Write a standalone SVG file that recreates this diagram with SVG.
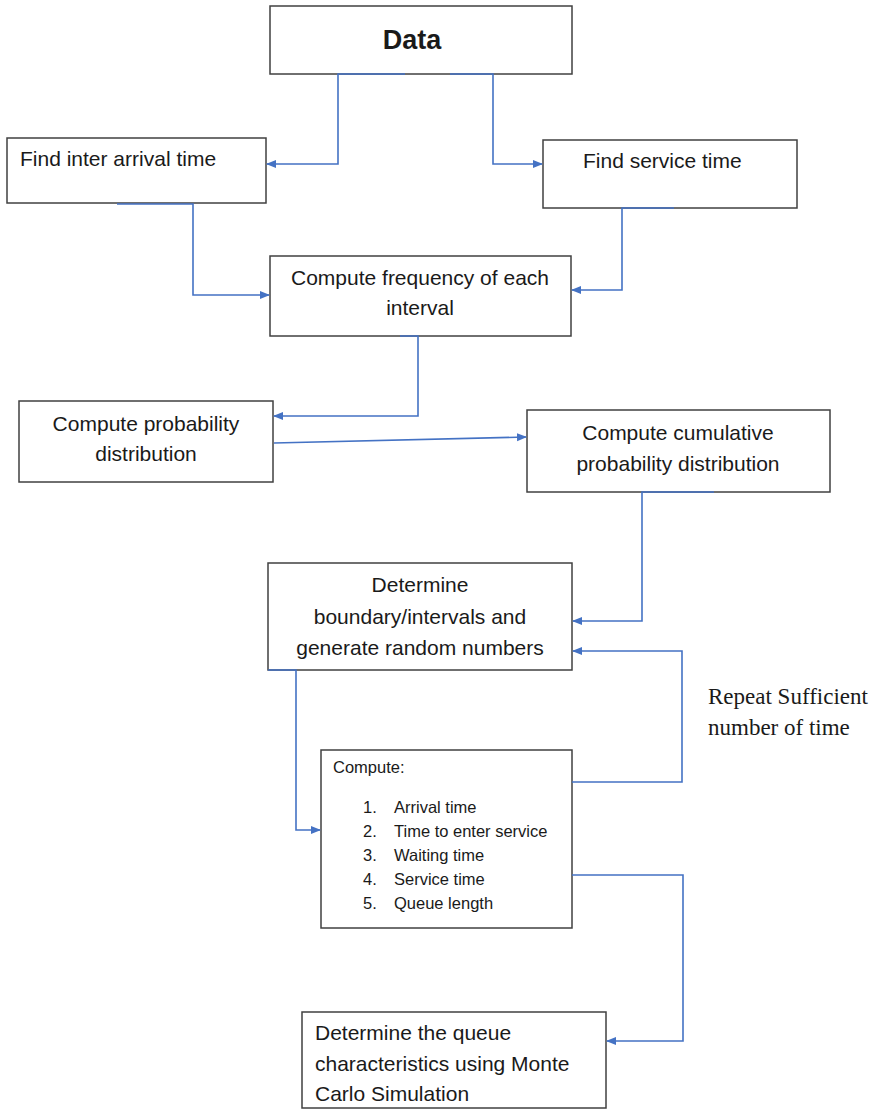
<svg xmlns="http://www.w3.org/2000/svg" width="878" height="1110" viewBox="0 0 878 1110">
<style>
.box{fill:#fff;stroke:#404040;stroke-width:1.5}
.t{font-family:"Liberation Sans",Arial,sans-serif;font-size:21px;fill:#1a1a1a}
.c{text-anchor:middle}
.s{font-size:16.5px}
.tm{font-family:"Liberation Serif","Times New Roman",serif;font-size:23px;fill:#1a1a1a}
.conn path{fill:none;stroke:#4472C4;stroke-width:1.6;marker-end:url(#ah)}
</style>
<defs>
<marker id="ah" markerUnits="userSpaceOnUse" markerWidth="10" markerHeight="10" viewBox="0 0 10 10" refX="9" refY="5" orient="auto">
<path d="M0,1 L10,5 L0,9 z" fill="#4472C4"/>
</marker>
</defs>
<rect width="878" height="1110" fill="#fff"/>
<g id="data"><rect class="box" x="270" y="6" width="302" height="68"/><text class="t c" x="412" y="49" style="font-size:27px;font-weight:bold">Data</text></g>
<g id="interarrival"><rect class="box" x="7" y="138" width="259" height="65"/><text class="t" x="20" y="166">Find inter arrival time</text></g>
<g id="service"><rect class="box" x="543" y="140" width="254" height="68"/><text class="t" x="583" y="168">Find service time</text></g>
<g id="frequency"><rect class="box" x="270" y="256" width="301" height="80"/><text class="t c" x="420" y="285">Compute frequency of each</text><text class="t c" x="420" y="315">interval</text></g>
<g id="probability"><rect class="box" x="19" y="401" width="254" height="81"/><text class="t c" x="146" y="431">Compute probability</text><text class="t c" x="146" y="461">distribution</text></g>
<g id="cumulative"><rect class="box" x="527" y="410" width="303" height="82"/><text class="t c" x="678" y="440">Compute cumulative</text><text class="t c" x="678" y="471">probability distribution</text></g>
<g id="determine"><rect class="box" x="268" y="563" width="304" height="107"/><text class="t c" x="420" y="592">Determine</text><text class="t c" x="420" y="624">boundary/intervals and</text><text class="t c" x="420" y="655">generate random numbers</text></g>
<g id="compute"><rect class="box" x="321" y="750" width="251" height="178"/>
<text class="t s" x="333" y="773">Compute:</text>
<text class="t s" x="363" y="813">1.</text><text class="t s" x="394" y="813">Arrival time</text>
<text class="t s" x="363" y="837">2.</text><text class="t s" x="394" y="837">Time to enter service</text>
<text class="t s" x="363" y="861">3.</text><text class="t s" x="394" y="861">Waiting time</text>
<text class="t s" x="363" y="885">4.</text><text class="t s" x="394" y="885">Service time</text>
<text class="t s" x="363" y="909">5.</text><text class="t s" x="394" y="909">Queue length</text>
</g>
<g id="queue"><rect class="box" x="302" y="1012" width="304" height="96"/><text class="t" x="315" y="1040">Determine the queue</text><text class="t" x="315" y="1071">characteristics using Monte</text><text class="t" x="315" y="1101">Carlo Simulation</text></g>
<g id="repeat-label"><text class="tm" x="708" y="704">Repeat Sufficient</text><text class="tm" x="708" y="735">number of time</text></g>
<g class="conn" id="connectors">
<path d="M405,74 H338 V164 H267"/>
<path d="M450,74 H493 V164 H542"/>
<path d="M117,204 H193 V295 H269"/>
<path d="M674,208 H622 V290 H572"/>
<path d="M400,336 H418 V416 H274"/>
<path d="M274,443 L526,437"/>
<path d="M714,492 H642 V621 H573"/>
<path d="M268,670 H296 V830 H320"/>
<path d="M572,782 H682 V651 H573"/>
<path d="M572,875 H683 V1041 H607"/>
</g>
</svg>
